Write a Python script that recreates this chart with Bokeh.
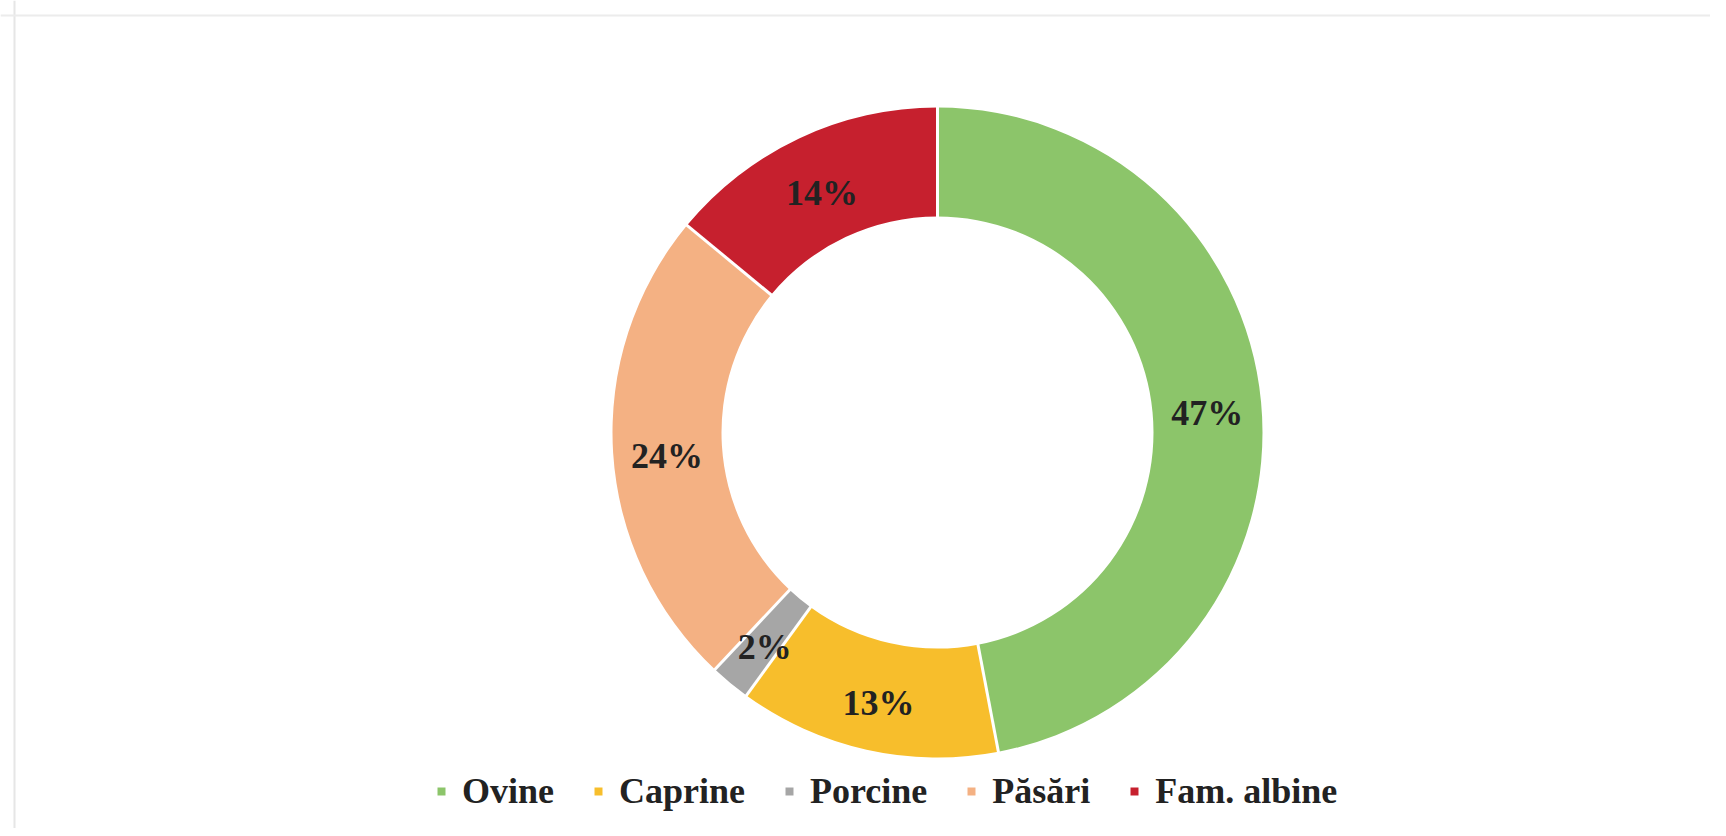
import math
from bokeh.plotting import figure
from bokeh.models import ColumnDataSource, Range1d, Legend, LegendItem, Span
from bokeh.core.properties import value
from bokeh.embed import file_html
from bokeh.resources import INLINE

categories = ["Ovine", "Caprine", "Porcine", "Păsări", "Fam. albine"]
shares = [47, 13, 2, 24, 14]
labels = ["47%", "13%", "2%", "24%", "14%"]
colors = ["#8CC56A", "#F7BE2C", "#A6A6A6", "#F4B183", "#C6202E"]

W, H = 1710, 828
CX, CY = 937, 432          # page pixel position of the centre
R_OUT, R_IN = 325, 216
R_LAB = 271
LAB_DY = -6

x0 = -CX
y1 = CY
p = figure(width=W, height=H, output_backend="svg", toolbar_location=None,
           x_range=Range1d(x0, x0 + W), y_range=Range1d(y1 - H, y1),
           min_border=0)
p.axis.visible = False
p.grid.visible = False
p.outline_line_color = None
p.background_fill_color = "white"
p.border_fill_color = "white"

# faint frame lines (top and left) of the original chart area
p.add_layout(Span(location=14 - CX, dimension="height",
                  line_color="#e6e6e6", line_width=2))
p.add_layout(Span(location=CY - 15, dimension="width",
                  line_color="#ececec", line_width=2))

total = sum(shares)
starts, ends, mids = [], [], []
acc = 0.0
for s in shares:
    f0 = acc / total
    acc += s
    f1 = acc / total
    starts.append(math.pi / 2 - f1 * 2 * math.pi)
    ends.append(math.pi / 2 - f0 * 2 * math.pi)
    mids.append(math.pi / 2 - (f0 + f1) / 2 * 2 * math.pi)

items = []
for i, cat in enumerate(categories):
    r = p.annular_wedge(x=0, y=0, inner_radius=R_IN, outer_radius=R_OUT,
                        start_angle=starts[i], end_angle=ends[i],
                        fill_color=colors[i], line_color=None)
    items.append(LegendItem(label=cat, renderers=[r]))

# white separators between slices
p.ray(x=[0] * len(ends), y=[0] * len(ends), angle=ends, length=R_OUT + 4,
      line_color="white", line_width=3)
# white inner disc to hide ray parts in the hole
p.circle(x=0, y=0, radius=R_IN - 1, fill_color="white", line_color=None)

lab_src = ColumnDataSource(dict(
    x=[R_LAB * math.cos(a) for a in mids],
    y=[R_LAB * math.sin(a) + LAB_DY for a in mids],
    t=labels))
p.text(x="x", y="y", text="t", source=lab_src, text_align="center",
       text_baseline="middle", text_font=value("Liberation Serif"),
       text_font_style="bold", text_font_size="36px", text_color="#222222")

legend = Legend(items=items, orientation="horizontal", location=(436, 16),
                margin=0, padding=0, spacing=39, glyph_width=10, glyph_height=10,
                label_standoff=16, label_text_font="Liberation Serif",
                label_text_font_style="bold", label_text_font_size="36px",
                label_text_color="#222222", border_line_color=None,
                background_fill_alpha=0)
p.add_layout(legend, "center")

open("out.html", "w").write(file_html(p, INLINE))
